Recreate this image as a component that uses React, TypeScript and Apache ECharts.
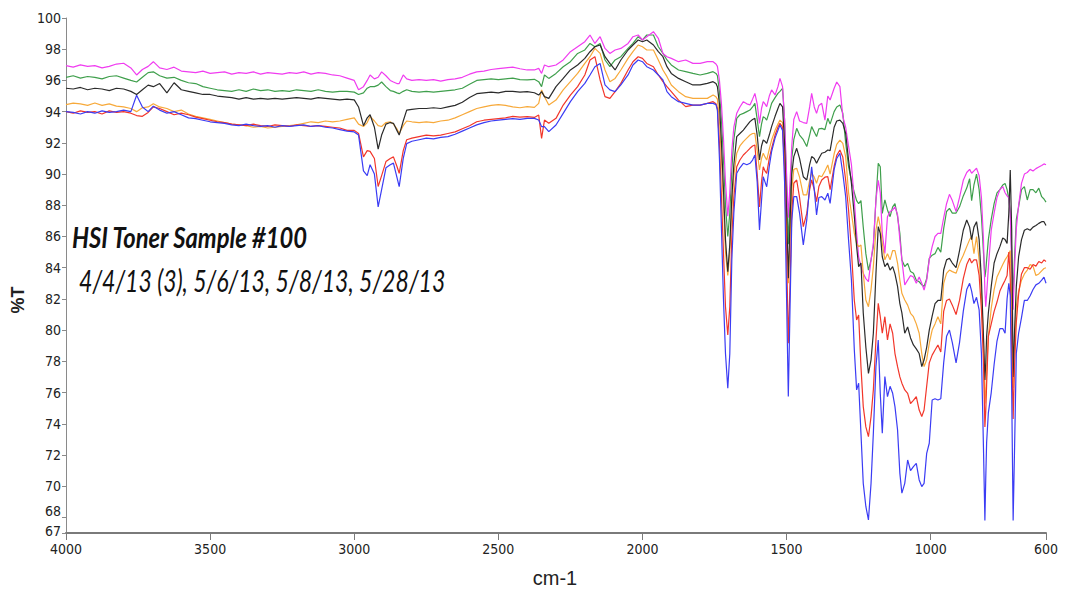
import React, { useEffect, useRef } from "react";
import * as echarts from "echarts";

// Wavenumbers (cm-1), shared by all six spectra
const wavenumbers = [
  // 4000 - 2425
  4000, 3975, 3950, 3925, 3900, 3875, 3850, 3825, 3800, 3775,
  3755, 3735, 3715, 3697, 3675, 3650, 3625, 3600, 3575, 3550,
  3525, 3500, 3475, 3450, 3425, 3400, 3375, 3350, 3325, 3300,
  3275, 3250, 3225, 3200, 3175, 3150, 3125, 3100, 3075, 3050,
  3025, 3000, 2985, 2968, 2955, 2945, 2930, 2917, 2905, 2890,
  2875, 2864, 2852, 2844, 2830, 2818, 2800, 2775, 2750, 2725,
  2700, 2675, 2650, 2625, 2600, 2575, 2550, 2525, 2500, 2475,
  2450, 2425,
  // 2400 - 1745
  2400, 2375, 2360, 2350, 2340, 2325, 2300, 2275, 2250, 2225,
  2200, 2182, 2165, 2147, 2130, 2113, 2095, 2075, 2050, 2033,
  2015, 2000, 1985, 1962, 1945, 1929, 1915, 1900, 1875, 1850,
  1825, 1800, 1775, 1755, 1745,
  // 1740 - 600
  1740, 1733, 1726, 1719, 1712, 1704, 1697, 1690, 1683, 1673,
  1662, 1650, 1638, 1627, 1618, 1610, 1602, 1594, 1587, 1581,
  1575, 1569, 1560, 1552, 1540, 1530, 1523, 1514, 1507, 1500,
  1494, 1488, 1482, 1475, 1465, 1455, 1442, 1430, 1420, 1413,
  1404, 1396, 1388, 1378, 1367, 1357, 1349, 1335, 1326, 1315,
  1305, 1295, 1285, 1275, 1265, 1257, 1250, 1242, 1234, 1225,
  1216, 1207, 1199, 1190, 1182, 1175, 1168, 1159, 1150, 1141,
  1132, 1124, 1115, 1107, 1100, 1090, 1080, 1070, 1060, 1050,
  1040, 1031, 1023, 1014, 1005, 995, 985, 975, 965, 955,
  945, 935, 925, 912, 900, 887, 875, 865, 858, 850,
  841, 832, 824, 817, 812, 809, 806, 800, 790, 780,
  770, 760, 750, 742, 735, 729, 724, 719, 714, 709,
  703, 695, 685, 675, 665, 655, 645, 635, 625, 615,
  607, 600,
];

const magentaT = [
  96.95, 96.85, 97.0, 96.9, 96.95, 96.8, 96.9, 97.05, 97.1, 96.8,
  96.35, 96.7, 96.9, 97.2, 96.8, 96.7, 96.85, 96.6, 96.55, 96.5,
  96.6, 96.45, 96.5, 96.55, 96.4, 96.5, 96.45, 96.55, 96.4, 96.5,
  96.45, 96.4, 96.5, 96.45, 96.55, 96.4, 96.5, 96.45, 96.35, 96.3,
  96.15, 96.0, 95.4, 95.6, 96.0, 96.35, 96.1, 96.2, 96.55, 96.3,
  96.0, 95.9, 95.8, 95.8, 96.35, 96.1, 96.0, 96.05, 96.0, 96.05,
  95.95, 96.05, 96.1, 96.2, 96.4, 96.55, 96.6, 96.7, 96.75, 96.8,
  96.85, 96.75,
  96.67, 96.67, 96.77, 96.45, 96.99, 96.88, 96.99, 97.31, 97.84, 98.16,
  98.48, 98.91, 98.37, 98.8, 98.05, 97.73, 97.95, 98.05, 98.37, 98.8,
  98.91, 98.59, 98.8, 99.12, 98.7, 97.73, 97.52, 97.41, 97.2, 97.31,
  97.09, 97.09, 97.2, 97.2, 97.05,
  96.9, 96.0, 94.5, 92.3, 89.5, 87.3, 88.8, 91.5, 93.0, 93.89,
  94.3, 94.64, 94.5, 94.43, 94.8, 95.17, 94.5, 93.25, 94.2, 94.64,
  94.5, 94.32, 95.0, 95.39, 95.07, 95.6, 96.13, 95.6, 93.5, 90.0,
  87.2, 89.5, 91.8, 93.5, 94.0, 93.4, 93.3, 93.25, 94.3, 95.17,
  94.3, 93.89, 94.4, 94.53, 93.46, 95.0, 94.75, 95.5, 95.9, 95.6,
  93.7, 93.0, 91.8, 90.6, 88.3, 86.2, 84.7, 84.1, 83.64, 83.3,
  83.11, 84.5, 85.56, 88.34, 89.6, 88.8, 86.2, 84.92, 87.27, 87.6,
  87.7, 87.9, 87.4, 85.8, 84.5, 82.9, 83.2, 83.5, 83.4, 83.0,
  83.4, 83.0, 82.57, 83.2, 84.5, 85.35, 86.0, 86.2, 86.2, 87.2,
  88.1, 88.7, 88.3, 87.6, 88.5, 89.6, 90.1, 90.3, 90.05, 90.2,
  90.37, 89.9, 88.5, 85.8, 82.5, 81.5, 82.3, 84.0, 86.4, 87.5,
  88.5, 89.0, 89.2, 88.8, 88.6, 88.5, 87.5, 84.0, 81.3, 84.0,
  86.5, 88.0, 89.4, 90.0, 90.1, 90.3, 90.2, 90.35, 90.45, 90.55,
  90.65, 90.6,
];

const greenT = [
  96.2, 96.3, 96.15, 96.25, 96.2, 96.1, 96.25, 96.3, 96.15, 96.0,
  95.9, 96.2, 96.5, 96.55, 96.3, 96.15, 96.2, 96.0, 95.85, 95.8,
  95.6, 95.5, 95.4, 95.35, 95.3, 95.4, 95.3, 95.45, 95.35, 95.4,
  95.3, 95.35, 95.3, 95.4, 95.35, 95.3, 95.4, 95.3, 95.25, 95.3,
  95.3, 95.25, 95.1, 95.2, 95.5, 95.6, 95.6, 95.7, 95.9, 95.6,
  95.35, 95.3, 95.2, 95.15, 95.3, 95.4, 95.3, 95.25, 95.3, 95.25,
  95.3, 95.35, 95.4, 95.5, 95.75, 96.0, 96.05, 96.1, 96.05, 96.1,
  96.15, 96.05,
  96.03, 96.07, 95.92, 95.6, 96.35, 96.13, 96.45, 96.88, 97.2, 97.73,
  97.95, 98.37, 98.16, 98.37, 97.31, 96.88, 97.31, 97.52, 98.05, 98.37,
  98.8, 98.59, 98.91, 98.91, 98.16, 97.73, 97.31, 96.99, 96.67, 96.56,
  96.45, 96.35, 96.45, 96.56, 96.45,
  96.3, 95.3, 93.5, 91.0, 88.0, 86.0, 87.5, 90.3, 92.2, 93.57,
  93.8, 93.89, 94.0, 94.1, 94.3, 94.53, 93.5, 92.4, 93.2, 93.68,
  93.6, 93.46, 94.0, 94.53, 94.9, 95.17, 95.3, 95.49, 93.5, 89.0,
  85.5, 88.5, 91.0, 92.2, 92.93, 92.5, 92.2, 91.76, 92.5, 93.04,
  92.7, 92.4, 92.9, 92.93, 92.85, 93.57, 93.2, 94.0, 94.3, 94.43,
  93.9, 92.0, 90.47, 89.6, 88.8, 88.3, 88.1, 88.3, 86.6, 84.9,
  83.85, 84.5, 85.35, 88.34, 90.69, 90.47, 87.48, 88.34, 87.7, 87.27,
  87.9, 88.1, 87.27, 86.2, 84.5, 84.07, 84.28, 83.75, 83.64, 83.2,
  83.1, 82.9, 82.8, 83.3, 84.6, 84.8, 84.9, 85.3, 85.0, 86.5,
  87.6, 87.8, 87.5, 87.5, 87.9, 88.6, 89.1, 89.7, 88.3, 89.3,
  90.0, 89.0, 87.3, 85.0, 83.4, 83.8, 84.5, 85.8, 87.1, 88.1,
  88.8, 89.0, 89.3, 89.4, 89.0, 88.4, 87.5, 85.0, 82.2, 84.7,
  87.1, 87.9, 89.0, 89.2, 88.34, 89.0, 89.0, 88.8, 89.1, 88.55,
  88.4, 88.2,
];

const blackT = [
  95.5, 95.45, 95.55, 95.4, 95.5, 95.45, 95.35, 95.5, 95.45, 95.3,
  95.1, 95.4, 95.7, 95.6, 95.8, 95.2, 95.85, 95.4, 95.3, 95.2,
  95.1, 95.1, 95.0, 94.95, 94.9, 94.8, 94.9, 94.8, 94.85, 94.8,
  94.85, 94.8, 94.85, 94.9, 94.85, 94.8, 94.9, 94.85, 94.8, 94.75,
  94.8, 94.75, 94.3, 93.1, 93.6, 93.8, 93.0, 91.6, 92.5, 93.2,
  93.3, 93.25, 92.8, 92.5, 93.4, 94.1, 94.15, 94.2, 94.2, 94.25,
  94.2, 94.3, 94.4, 94.6, 94.9, 95.15, 95.2, 95.25, 95.2, 95.3,
  95.3, 95.25,
  95.28, 95.21, 95.06, 95.28, 94.96, 94.85, 95.6, 96.13, 96.67, 96.99,
  97.41, 97.84, 98.16, 98.27, 97.52, 97.09, 96.67, 97.31, 97.95, 98.27,
  98.59, 98.48, 98.59, 98.27, 97.84, 97.52, 96.88, 96.45, 96.13, 95.92,
  95.71, 95.71, 95.81, 95.92, 95.8,
  95.6, 94.5, 92.0, 89.0, 85.8, 83.75, 85.5, 88.5, 90.6, 92.4,
  92.6, 92.82, 93.1, 93.36, 93.5, 93.57, 92.5, 90.9, 91.8, 92.18,
  92.1, 91.97, 92.5, 93.04, 93.7, 94.2, 94.53, 94.3, 92.0, 87.5,
  83.32, 87.0, 90.0, 91.12, 91.65, 91.0, 89.83, 89.62, 90.6, 91.12,
  91.0, 90.69, 91.0, 91.33, 91.4, 91.54, 91.5, 93.0, 93.4, 93.46,
  93.25, 92.6, 90.9, 89.4, 87.3, 85.35, 84.07, 84.3, 81.1, 78.9,
  77.23, 78.1, 79.8, 83.6, 86.63, 86.2, 84.7, 84.07, 84.3, 83.85,
  84.07, 83.6, 82.8, 81.7, 81.1, 79.8, 80.2, 79.5, 79.05, 78.8,
  78.5, 77.66, 78.1, 78.9, 80.0, 80.9, 81.7, 81.9, 81.9, 83.85,
  84.5, 84.6, 84.3, 84.0, 85.1, 86.4, 87.06, 86.6, 85.8, 86.6,
  86.95, 85.8, 83.2, 79.6, 76.8, 77.9, 79.6, 81.1, 82.8, 84.3,
  84.9, 85.35, 85.9, 85.8, 85.56, 87.5, 90.26, 86.4, 77.0, 80.0,
  82.8, 84.7, 85.8, 86.4, 86.5, 86.4, 86.6, 86.7, 86.84, 86.95,
  86.95, 86.7,
];

const orangeT = [
  94.45, 94.55, 94.5, 94.4, 94.55, 94.4, 94.5, 94.35, 94.3, 94.2,
  94.0, 94.25, 94.3, 94.5, 94.3, 94.2, 94.0, 94.1, 93.85, 93.7,
  93.6, 93.5, 93.4, 93.3, 93.2, 93.15, 93.1, 93.0, 93.05, 92.95,
  93.0, 93.05, 93.1, 93.15, 93.25, 93.35, 93.3, 93.4, 93.35, 93.4,
  93.5, 93.6, 93.2, 93.05, 93.3, 93.7, 93.4, 93.1, 93.05, 93.3,
  93.35, 93.2, 92.9, 92.6, 93.1, 93.4, 93.35, 93.3, 93.35, 93.3,
  93.4, 93.45, 93.6, 93.8, 94.0, 94.2, 94.3, 94.4, 94.45, 94.4,
  94.3, 94.25,
  94.32, 94.27, 94.53, 95.39, 94.96, 94.42, 94.74, 95.39, 95.92, 96.45,
  97.09, 97.52, 98.05, 97.73, 96.67, 95.92, 96.13, 96.67, 97.41, 97.84,
  98.27, 98.16, 97.95, 97.95, 97.31, 96.67, 96.24, 95.71, 95.28, 94.96,
  94.85, 94.85, 94.85, 95.06, 94.95,
  94.8, 93.5, 91.0, 88.0, 85.0, 83.5, 85.0, 87.8, 89.9, 91.33,
  91.8, 92.08, 92.3, 92.5, 92.6, 92.61, 91.5, 90.26, 91.0, 91.33,
  91.1, 90.9, 91.6, 92.18, 92.8, 93.2, 93.46, 93.3, 91.5, 87.0,
  83.0, 86.0, 89.0, 90.3, 90.37, 89.8, 88.66, 88.66, 89.6, 90.05,
  89.8, 89.41, 89.9, 89.83, 90.2, 90.58, 90.0, 91.3, 91.9, 92.18,
  91.97, 91.1, 88.8, 87.5, 86.2, 85.56, 85.35, 85.45, 83.64, 81.93,
  81.5, 82.6, 84.07, 86.4, 87.27, 86.63, 85.56, 84.5, 84.9, 84.5,
  85.1, 85.1, 84.3, 83.2, 82.36, 81.93, 81.6, 81.08, 80.86, 80.4,
  79.8, 78.5, 77.66, 78.1, 79.15, 80.0, 80.4, 80.86, 80.4, 83.0,
  83.64, 83.85, 83.75, 83.64, 84.28, 84.8, 85.35, 85.8, 86.0, 84.9,
  86.0, 84.5, 82.3, 79.5, 75.3, 76.0, 77.3, 79.6, 81.4, 82.6,
  83.4, 83.8, 84.2, 84.5, 84.7, 84.9, 85.1, 82.0, 76.3, 79.0,
  81.5, 82.5, 83.2, 83.6, 83.85, 84.2, 84.1, 83.5, 83.6, 83.8,
  83.95, 84.0,
];

const redT = [
  94.0, 93.9, 94.05, 93.95, 94.0, 93.85, 94.05, 93.95, 94.0, 93.9,
  93.75, 93.7, 93.95, 94.3, 94.2, 94.0, 93.8, 93.9, 93.8, 93.65,
  93.55, 93.45, 93.35, 93.3, 93.2, 93.15, 93.1, 93.2, 93.1, 93.05,
  93.15, 93.1, 93.05, 93.15, 93.1, 93.05, 93.1, 93.05, 93.0, 92.95,
  92.8, 92.8, 92.6, 91.1, 91.5, 91.45, 91.0, 89.2, 89.9, 90.8,
  91.0, 91.1, 90.5, 90.05, 91.5, 92.2, 92.3, 92.4, 92.5, 92.45,
  92.5, 92.6, 92.7, 92.9, 93.1, 93.35, 93.45, 93.5, 93.55, 93.6,
  93.7, 93.65,
  93.68, 93.63, 93.78, 92.29, 93.46, 93.25, 93.57, 94.42, 95.06, 95.6,
  96.35, 97.31, 97.52, 96.03, 94.96, 94.85, 95.28, 95.81, 96.67, 97.2,
  97.52, 97.41, 97.09, 96.88, 96.35, 95.92, 95.6, 95.28, 94.74, 94.32,
  94.42, 94.42, 94.53, 94.64, 94.5,
  94.2, 92.0, 88.5, 85.0, 81.5, 79.69, 81.5, 86.0, 88.5, 90.47,
  90.9, 91.22, 91.44, 91.65, 91.8, 91.86, 90.0, 87.9, 89.5, 90.47,
  90.2, 90.05, 91.0, 91.65, 92.5, 93.0, 93.25, 93.0, 90.5, 85.0,
  79.16, 83.0, 87.5, 89.41, 89.62, 88.5, 86.63, 87.48, 89.0, 89.62,
  89.0, 88.23, 89.2, 89.62, 89.8, 89.83, 89.0, 90.5, 91.2, 91.54,
  91.1, 89.6, 87.7, 85.1, 81.9, 80.65, 80.97, 77.66, 75.1, 73.8,
  73.17, 74.46, 76.17, 79.37, 81.72, 80.86, 79.8, 80.86, 79.37, 80.4,
  79.8, 78.5, 77.66, 77.0, 76.6, 76.17, 75.95, 75.3, 75.5, 75.74,
  74.88, 74.46, 74.88, 76.4, 77.9, 78.4, 78.73, 79.05, 78.6, 81.2,
  81.9, 82.0, 81.6, 81.0, 81.9, 83.3, 84.2, 84.6, 84.3, 84.5,
  84.5, 83.5, 81.3, 78.0, 73.8, 74.8, 76.5, 79.6, 80.4, 81.2,
  81.8, 82.5, 82.9, 83.2, 83.5, 85.0, 83.3, 78.9, 74.3, 77.8,
  80.5, 82.3, 83.6, 84.0, 84.0, 83.9, 84.2, 84.1, 84.4, 84.3,
  84.5, 84.4,
];

const blueT = [
  94.0, 93.95, 93.85, 94.0, 93.9, 94.05, 93.95, 94.0, 94.1, 94.0,
  95.05, 94.3, 94.0, 94.35, 94.1, 93.9, 94.0, 93.8, 93.6, 93.55,
  93.45, 93.35, 93.3, 93.25, 93.15, 93.1, 93.2, 93.1, 93.05, 93.1,
  93.0, 93.1, 93.05, 93.1, 93.15, 93.05, 93.1, 93.0, 92.95, 92.85,
  92.75, 92.7, 92.5, 90.2, 89.9, 90.6, 90.0, 87.9, 89.0, 90.4,
  90.6, 90.7, 89.8, 89.2, 91.0, 91.95, 92.1, 92.2, 92.3, 92.25,
  92.35, 92.4, 92.55, 92.75, 92.95, 93.15, 93.3, 93.4, 93.45, 93.5,
  93.55, 93.5,
  93.57, 93.57, 93.46, 93.04, 93.04, 92.72, 93.14, 93.89, 94.64, 95.28,
  95.81, 96.35, 96.88, 97.09, 95.71, 95.39, 95.28, 95.71, 96.35, 96.99,
  97.31, 97.2, 96.88, 96.67, 96.35, 96.03, 95.28, 94.96, 94.64, 94.53,
  94.42, 94.42, 94.53, 94.53, 94.45,
  94.1, 91.0, 86.5, 82.0, 78.5, 76.27, 78.5, 84.5, 87.5, 90.05,
  90.4, 90.69, 90.6, 90.69, 90.9, 91.22, 89.5, 86.42, 88.3, 89.83,
  89.5, 89.19, 90.5, 91.44, 92.3, 92.8, 93.14, 92.8, 89.5, 82.0,
  75.74, 81.5, 87.0, 88.55, 88.55, 87.5, 85.46, 87.06, 89.2, 90.47,
  89.0, 87.38, 88.5, 88.55, 88.34, 88.77, 88.12, 90.3, 91.0, 91.33,
  90.05, 88.55, 85.78, 83.2, 78.73, 76.17, 76.6, 73.39, 70.18, 68.7,
  67.84, 70.18, 73.39, 77.66, 79.37, 75.95, 73.39, 77.02, 75.74, 76.4,
  75.95, 75.1, 73.6, 70.82, 69.55, 70.18, 71.68, 71.0, 71.25, 71.46,
  70.4, 69.97, 70.18, 72.1, 72.75, 75.52, 75.6, 75.52, 75.6, 77.9,
  79.6, 80.0, 79.2, 77.9, 79.2, 81.2, 82.6, 83.0, 82.5, 81.7,
  82.1, 81.3, 78.5, 72.5, 67.8, 70.5, 72.8, 74.7, 76.0, 77.8,
  79.3, 80.1, 80.1, 79.8, 82.0, 83.0, 82.2, 76.0, 67.8, 72.5,
  78.5, 79.8, 80.8, 81.9, 81.9, 82.2, 82.6, 82.9, 83.0, 83.2,
  83.4, 83.0,
];

const xTickValues = [4000, 3500, 3000, 2500, 2000, 1500, 1000, 600];
const yTickValues = [67, 68, 70, 72, 74, 76, 78, 80, 82, 84, 86, 88, 90, 92, 94, 96, 98, 100];

const titleLine1 = "HSI Toner Sample #100";
const titleLine2 = "4/4/13 (3), 5/6/13, 5/8/13, 5/28/13";

const spectra = [
  { name: "Scan 1", color: "#3f9f4c", values: greenT },
  { name: "Scan 2", color: "#f03cf0", values: magentaT },
  { name: "Scan 3", color: "#f7a93a", values: orangeT },
  { name: "Scan 4", color: "#2b2b2b", values: blackT },
  { name: "Scan 5", color: "#f2362a", values: redT },
  { name: "Scan 6", color: "#3b3cf4", values: blueT },
];

const narrow = "'Liberation Sans Narrow', 'Arial Narrow', 'DejaVu Sans Condensed', sans-serif";

export default function App() {
  const ref = useRef<HTMLDivElement>(null);
  useEffect(() => {
    if (!ref.current) return;
    const chart = echarts.init(ref.current, null, { renderer: "svg" });
    chart.setOption({
      animation: false,
      backgroundColor: "#ffffff",
      grid: { left: 66, right: 23, top: 18, bottom: 66, containLabel: false },
      xAxis: {
        type: "value",
        min: 600,
        max: 4000,
        inverse: true,
        splitLine: { show: false },
        axisLine: { show: true, lineStyle: { color: "#7a7a7a", width: 2 } },
        axisTick: { show: true, length: 7, customValues: xTickValues, lineStyle: { color: "#7a7a7a", width: 1 } },
        axisLabel: {
          customValues: xTickValues,
          margin: 9,
          color: "#222",
          fontFamily: narrow,
          fontSize: 14,
          formatter: (v: number) => String(v),
        },
      },
      yAxis: {
        type: "value",
        min: 67,
        max: 100,
        splitLine: { show: false },
        axisLine: { show: true, lineStyle: { color: "#8a8a8a", width: 1 } },
        axisTick: { show: true, length: 4, customValues: yTickValues, lineStyle: { color: "#8a8a8a" } },
        axisLabel: {
          customValues: yTickValues,
          margin: 5,
          color: "#222",
          fontFamily: narrow,
          fontSize: 14,
          formatter: (v: number) => (v === 68 ? "{up|68}" : v === 67 ? "{low|67}" : String(v)),
          rich: {
            up: { fontFamily: narrow, fontSize: 14, color: "#222", padding: [0, 0, 12, 0] },
            low: { fontFamily: narrow, fontSize: 14, color: "#222", padding: [0, 0, 4, 0] },
          },
        },
      },
      series: spectra.map((s) => ({
        name: s.name,
        type: "line",
        showSymbol: false,
        symbol: "none",
        data: wavenumbers.map((w, i) => [w, s.values[i]]),
        lineStyle: { color: s.color, width: 1.2 },
        itemStyle: { color: s.color },
        emphasis: { disabled: true },
      })),
      graphic: [
        {
          type: "text",
          x: 72,
          y: 237,
          scaleX: 0.82,
          style: {
            text: titleLine1,
            fontFamily: "Lato, 'Open Sans', sans-serif",
            fontWeight: "bold",
            fontStyle: "italic",
            fontSize: 29,
            fill: "#111",
            align: "left",
            verticalAlign: "middle",
          },
        },
        {
          type: "text",
          x: 79,
          y: 281,
          scaleX: 0.77,
          style: {
            text: titleLine2,
            fontFamily: "Lato, 'Open Sans', sans-serif",
            fontStyle: "italic",
            fontSize: 30,
            fill: "#111",
            align: "left",
            verticalAlign: "middle",
          },
        },
        {
          type: "text",
          x: 18,
          y: 300,
          rotation: Math.PI / 2,
          style: {
            text: "%T",
            fontFamily: "'Liberation Sans', Arial, sans-serif",
            fontWeight: "bold",
            fontSize: 18,
            fill: "#222",
            align: "center",
            verticalAlign: "middle",
          },
        },
        {
          type: "text",
          x: 555,
          y: 578,
          style: {
            text: "cm-1",
            fontFamily: "'Liberation Sans', Arial, sans-serif",
            fontSize: 20,
            fill: "#222",
            align: "center",
            verticalAlign: "middle",
          },
        },
      ],
    });
    return () => chart.dispose();
  }, []);
  return (
    <div
      ref={ref}
      style={{ position: "fixed", left: 0, top: 0, width: 1069, height: 599, background: "#fff" }}
    />
  );
}
